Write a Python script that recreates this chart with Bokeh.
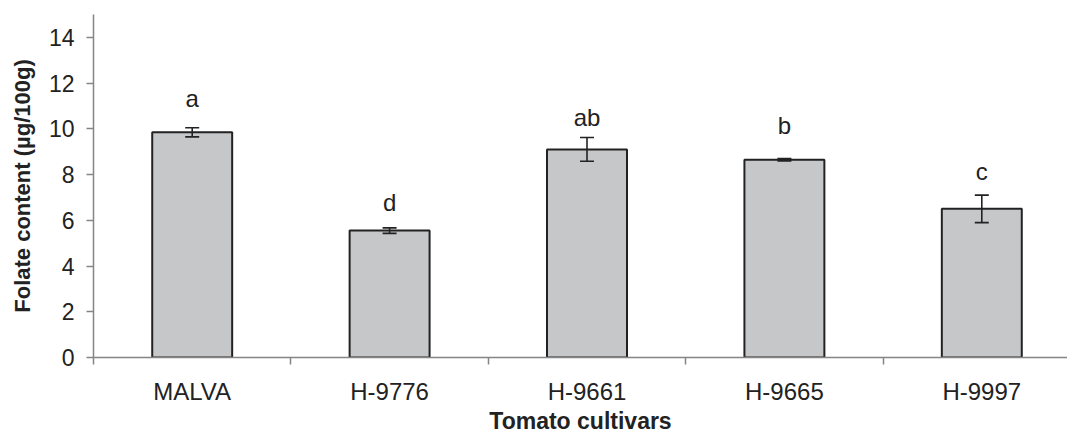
from bokeh.plotting import figure
from bokeh.models import ColumnDataSource, Range1d, FixedTicker, Whisker, TeeHead
from bokeh.embed import file_html
from bokeh.resources import INLINE
from bokeh.core.properties import value

# ---- data ----
cultivars = ["MALVA", "H-9776", "H-9661", "H-9665", "H-9997"]
folate = [9.85, 5.55, 9.10, 8.65, 6.50]
folate_err = [0.20, 0.12, 0.52, 0.05, 0.60]
letters = ["a", "d", "ab", "b", "c"]
letter_y = [11.33, 6.77, 10.51, 10.16, 8.12]
y_ticks = [0, 2, 4, 6, 8, 10, 12, 14]

FONT = "Liberation Sans"
AXIS_GRAY = "#858585"
TXT = "#222222"

xs = list(range(len(cultivars)))
src = ColumnDataSource(dict(
    x=xs, top=folate,
    lower=[v - e for v, e in zip(folate, folate_err)],
    upper=[v + e for v, e in zip(folate, folate_err)],
    letter=letters, ly=letter_y,
))

W, H = 1067, 443
left_border = 93
cat_px = 197.4
frame_w = W - left_border
x_end = -0.5 + frame_w / cat_px

p = figure(width=W, height=H, output_backend="svg", toolbar_location=None,
           x_range=Range1d(-0.5, x_end), y_range=Range1d(0, 15),
           min_border_left=left_border, min_border_top=14, min_border_right=0,
           min_border_bottom=86)
p.outline_line_color = None
p.grid.grid_line_color = None
p.background_fill_color = "white"

p.vbar(x="x", top="top", width=0.405, bottom=0, source=src,
       fill_color="#c6c7c9", line_color="#222222", line_width=2)

wh = Whisker(base="x", lower="lower", upper="upper", source=src,
             line_color="#222222", line_width=1.6, level="overlay",
             upper_head=TeeHead(size=14, line_color="#222222", line_width=1.6),
             lower_head=TeeHead(size=14, line_color="#222222", line_width=1.6))
p.add_layout(wh)

p.text(x="x", y="ly", text="letter", source=src, text_align="center",
       text_baseline="alphabetic", text_font=value(FONT),
       text_font_size="24px", text_color=TXT)

# x axis
xa = p.xaxis[0]
xa.ticker = FixedTicker(ticks=xs, minor_ticks=[i - 0.5 for i in range(len(cultivars) + 1)])
xa.major_label_overrides = {i: c for i, c in enumerate(cultivars)}
xa.major_tick_in = 0
xa.major_tick_out = 0
xa.minor_tick_in = 0
xa.minor_tick_out = 7
xa.minor_tick_line_color = AXIS_GRAY
xa.minor_tick_line_width = 1.5
xa.axis_line_color = AXIS_GRAY
xa.axis_line_width = 1.5
xa.major_label_standoff = 13
xa.major_label_text_font = FONT
xa.major_label_text_font_size = "24px"
xa.major_label_text_color = TXT
xa.axis_label = "Tomato cultivars"
xa.axis_label_text_font = FONT
xa.axis_label_text_font_style = "bold"
xa.axis_label_text_font_size = "23px"
xa.axis_label_text_color = TXT
xa.axis_label_standoff = 0

# y axis
ya = p.yaxis[0]
ya.ticker = FixedTicker(ticks=y_ticks)
ya.minor_tick_line_color = None
ya.major_tick_in = 0
ya.major_tick_out = 7
ya.major_tick_line_color = AXIS_GRAY
ya.major_tick_line_width = 1.5
ya.axis_line_color = AXIS_GRAY
ya.axis_line_width = 1.5
ya.major_label_standoff = 12
ya.major_label_text_font = FONT
ya.major_label_text_font_size = "23px"
ya.major_label_text_color = TXT
ya.axis_label = "Folate content (µg/100g)"
ya.axis_label_text_font = FONT
ya.axis_label_text_font_style = "bold"
ya.axis_label_text_font_size = "22px"
ya.axis_label_text_color = TXT
ya.axis_label_standoff = 11

open("out.html", "w").write(file_html(p, INLINE))
